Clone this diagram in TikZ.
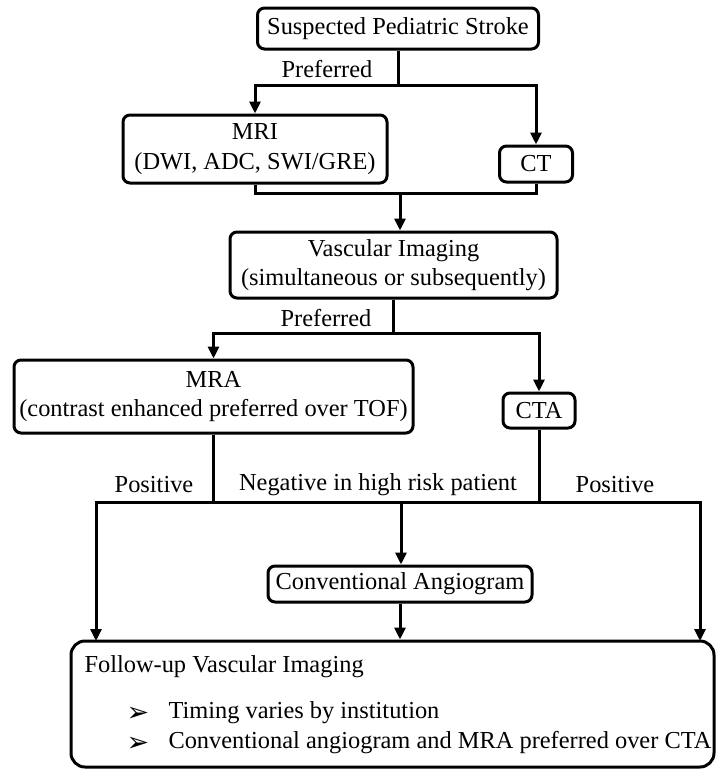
\documentclass[tikz,border=0pt]{standalone}
\usepackage{fontspec}
\setmainfont{Liberation Serif}
\newfontfamily\dingfont{DejaVu Sans}
\usetikzlibrary{arrows.meta}
\usetikzlibrary{positioning}

\begin{document}
\begin{tikzpicture}[x=1pt,y=-1pt,line width=3pt,
    box/.style={draw, rounded corners=7pt, inner sep=0pt, align=center,
      font=\fontsize{24.4}{29.5}\selectfont},
    lbl/.style={inner sep=0pt, font=\fontsize{24.4}{29.5}\selectfont},
    bul/.style={inner sep=0pt, font=\dingfont\fontsize{27}{27}\selectfont},
    arr/.style={-{Triangle[length=12pt,width=11pt]}}
    ]
\useasboundingbox (0,0) rectangle (716,769);

% boxes
\node[box, minimum width=281, minimum height=41] (stroke) at (398,28.5) {Suspected Pediatric Stroke};
\node[box, minimum width=264, minimum height=68] (mri) at (255,149) {MRI\\(DWI, ADC, SWI/GRE)};
\node[box, minimum width=73, minimum height=36] (ct) at (536,164) {CT};
\node[box, minimum width=327, minimum height=66] (vasc) at (393.5,265) {Vascular Imaging\\(simultaneous or subsequently)};
\node[box, minimum width=399, minimum height=73] (mra) at (213.5,396.5) {MRA\\(contrast enhanced preferred over TOF)};
\node[box, minimum width=72, minimum height=35] (cta) at (539,410.5) {CTA};
\node[box, minimum width=264, minimum height=36] (angio) at (400,584) {Conventional Angiogram};
\node[box, rounded corners=14pt, minimum width=643, minimum height=126] (follow) at (392.5,704) {};

% follow-up text
\node[lbl, anchor=west] (fhead) at (83,667) {Follow-up Vascular Imaging};
\node[bul] (b1) at (138,714) {➢};
\node[lbl, anchor=west] (ftime) at (167,713) {Timing varies by institution};
\node[bul] (b2) at (138,744) {➢};
\node[lbl, anchor=west] (fpref) at (167,743) {Conventional angiogram and MRA preferred over CTA};

% labels
\node[lbl] (pref1) at (327,69) {Preferred};
\node[lbl] (pref2) at (326,318) {Preferred};
\node[lbl] (posl) at (154,485) {Positive};
\node[lbl] (neg) at (378,485) {Negative in high risk patient};
\node[lbl] (posr) at (615,485) {Positive};

% stroke -> mri / ct
\draw (stroke.south) -- ++(0,35) coordinate (j1);
\draw[arr] (j1) -| (mri);
\draw[arr] (j1) -| (ct);

% mri / ct -> vascular imaging
\coordinate (j2) at (400,193);
\draw (mri) |- (j2) -| (ct);
\draw[arr] (j2) -- (j2 |- vasc.north);

% vascular imaging -> mra / cta
\draw (vasc.south) -- ++(0,34) coordinate (j3);
\draw[arr] (j3) -| (mra);
\draw[arr] (j3) -| (cta);

% mra / cta -> angiogram / follow-up
\coordinate (j4) at (401,502);
\coordinate (fl) at (96,641);
\coordinate (fr) at (700,641);
\draw (mra) -- (mra.south |- j4);
\draw (cta) -- (cta.south |- j4);
\draw[arr] (j4) -| (fl);
\draw[arr] (j4) -| (fr);
\draw[arr] (j4) -- (j4 |- angio.north);
\draw[arr] (angio) -- (angio.south |- follow.north);
\end{tikzpicture}
\end{document}
